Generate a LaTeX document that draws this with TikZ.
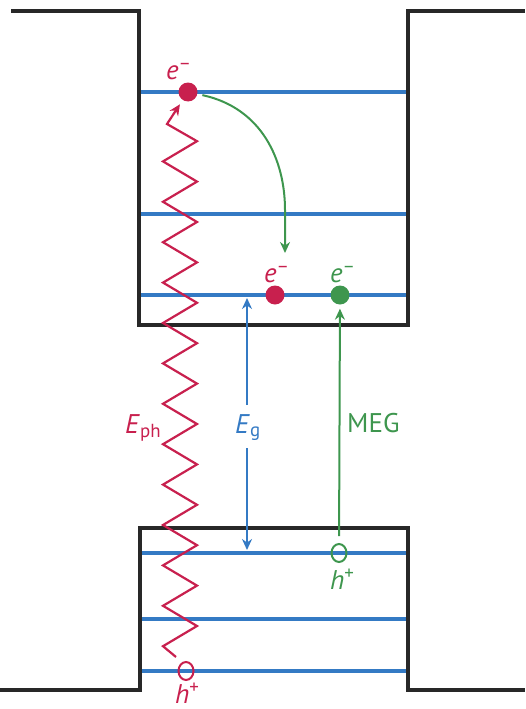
\documentclass[tikz,border=0pt]{standalone}
\usepackage{fontspec}
\setmainfont{PT Sans}
\usetikzlibrary{arrows.meta,shapes.geometric}
\definecolor{cred}{RGB}{200,32,78}
\definecolor{cblue}{RGB}{52,122,196}
\definecolor{cgreen}{RGB}{62,150,78}
\definecolor{cblack}{RGB}{40,40,40}
\begin{document}
\begin{tikzpicture}[x=1pt,y=-1pt,
  wall/.style={draw=cblack,line width=3.6pt,line join=miter},
  level/.style={draw=cblue,line width=3.4pt},
  edot/.style={circle,minimum size=19pt,inner sep=0pt},
  hole/.style={ellipse,draw,line width=2pt,minimum width=15pt,minimum height=18pt,inner sep=0pt},
  zig/.style={draw=cred,line width=2.2pt,line join=miter},
  thin/.style={line width=2pt},
  tip/.style={-{Stealth[length=11pt,width=10pt]}},
  lab/.style={font=\fontsize{27}{31}\selectfont,inner sep=0pt}
]
\useasboundingbox (0,0) rectangle (525,709);
% energy levels
\foreach \y in {92,214,295} \draw[level] (139,\y) -- (408,\y);
\foreach \y in {553,619,671} \draw[level] (140,\y) -- (408,\y);
% walls
\draw[wall] (11,11) -- (139,11) -- (139,325) -- (408,325) -- (408,11) -- (525,11);
\draw[wall] (0,690) -- (140,690) -- (140,528) -- (408,528) -- (408,690) -- (525,690);
% particles
\node[edot,fill=cred] (e1) at (188,92) {};
\node[edot,fill=cred] (e2) at (275,295) {};
\node[edot,fill=cgreen] (e3) at (340,295) {};
\node[hole,draw=cred] (h1) at (186,671) {};
\node[hole,draw=cgreen] (h2) at (339,553) {};
% labels
\node[lab,text=cred,anchor=base west] (le1) at (166,79) {\textit{e}\textsuperscript{–}};
\node[lab,text=cred,anchor=base west] (le2) at (264,282) {\textit{e}\textsuperscript{–}};
\node[lab,text=cgreen,anchor=base west] (le3) at (330,282) {\textit{e}\textsuperscript{–}};
\node[lab,text=cred,anchor=base west] (lh1) at (175,703) {\textit{h}\textsuperscript{+}};
\node[lab,text=cgreen,anchor=base west] (lh2) at (330,589) {\textit{h}\textsuperscript{+}};
\node[lab,text=cred,anchor=base west] (leph) at (125,433) {\textit{E}\textsubscript{ph}};
\node[lab,text=cblue,anchor=base west] (leg) at (235,433) {\textit{E}\textsubscript{g}};
\node[lab,text=cgreen,anchor=base west] (lmeg) at (347,432) {MEG};
% zigzag photon
\coordinate (zs) at (176,657);
\coordinate (zt) at (167,124);
\draw[zig,tip,shorten >=5pt] (zs)
  \foreach \i in {0,...,25} { -- ({mod(\i,2)==0 ? 163 : 197}, {646.2-20.2*\i}) }
  -- (zt) -- (e1);
% green relaxation arrow
\coordinate (ct) at (285,253);
\draw[draw=cgreen,thin,tip,shorten <=5pt] (e1) .. controls (262,108) and (285,160) .. (285,210) -- (ct);
% band gap arrow
\coordinate (egt) at (247,298);
\coordinate (egu) at (247,405);
\coordinate (egl) at (247,448);
\coordinate (egb) at (247,550);
\draw[draw=cblue,thin,tip] (egu) -- (egt);
\draw[draw=cblue,thin,tip] (egl) -- (egb);
% MEG arrow
\draw[draw=cgreen,thin,tip,shorten <=7pt,shorten >=4pt] (h2) -- (e3);
\end{tikzpicture}
\end{document}
